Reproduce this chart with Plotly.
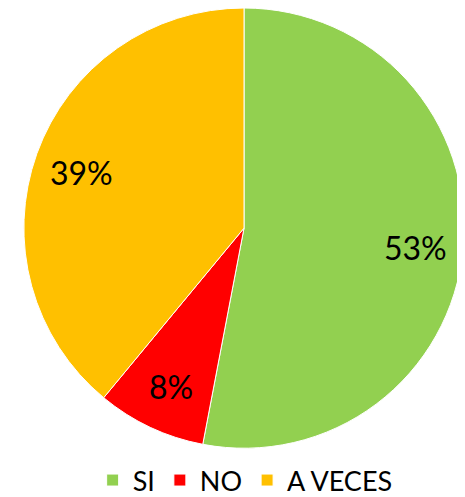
import math
import plotly.graph_objects as go

labels = ["SI", "NO", "A VECES"]
values = [53, 8, 39]
colors = ["#92D050", "#FF0000", "#FFC000"]

W, H = 465, 497
# pie placement in figure pixels (page body has 8px offset)
cx, cy, r = 236, 221, 221

fig = go.Figure(go.Pie(
    labels=labels,
    values=values,
    sort=False,
    direction="clockwise",
    rotation=0,
    marker=dict(colors=colors, line=dict(color="white", width=1)),
    textinfo="none",
    domain=dict(x=[(cx - r) / W, (cx + r) / W], y=[1 - (cy + r) / H, 1.0]),
))

# percentage labels placed along each slice's mid-angle
total = sum(values)
acc = 0
for v in values:
    mid = (acc + v / 2) / total * 2 * math.pi
    acc += v
    f = 0.78
    x = (cx + f * r * math.sin(mid)) / W
    y = 1 - (cy - f * r * math.cos(mid) + 3) / H
    fig.add_annotation(
        x=x, y=y, xref="paper", yref="paper",
        xanchor="center", yanchor="middle",
        text=f"{round(v / total * 100)}%", showarrow=False,
        font=dict(family="Lato", size=32, color="black"),
    )

fig.update_layout(
    width=W, height=H,
    margin=dict(l=0, r=0, t=0, b=0),
    paper_bgcolor="white",
    showlegend=True,
    legend=dict(
        orientation="h", x=0.51, xanchor="center", y=-0.005, yanchor="bottom",
        font=dict(family="Lato", size=27, color="black"),
        itemwidth=30,
    ),
)

fig.write_html("out.html")
